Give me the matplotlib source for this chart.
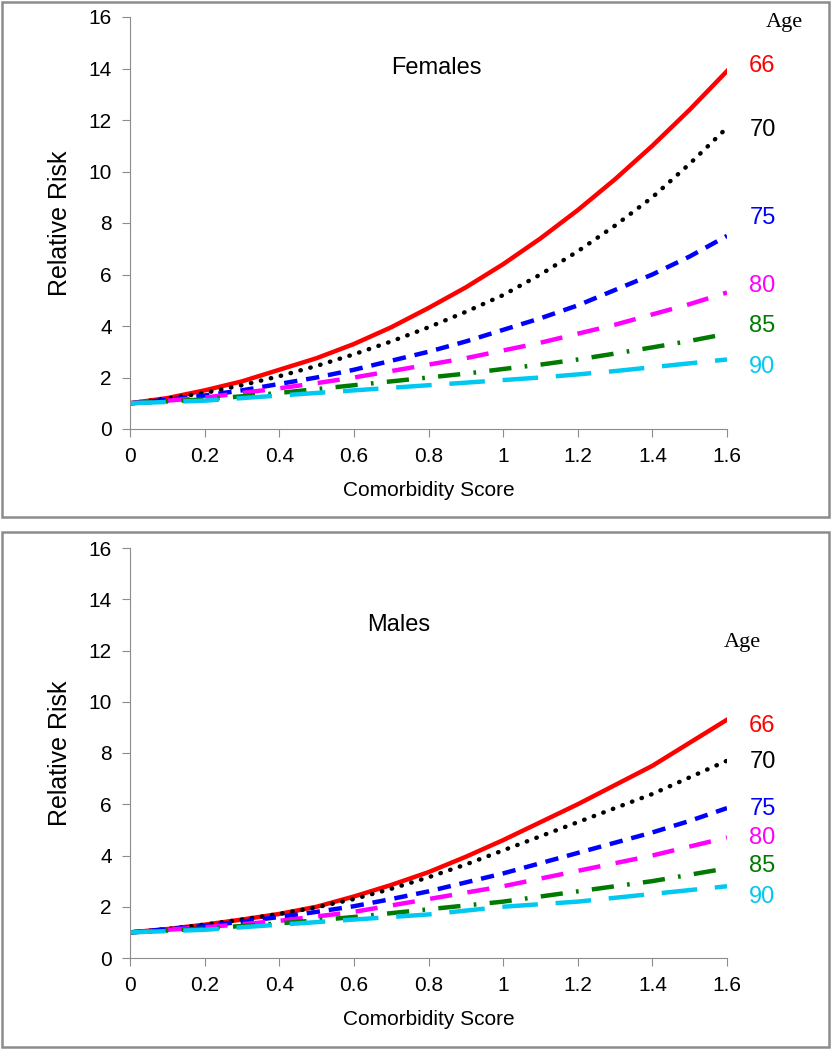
import numpy as np
import matplotlib.pyplot as plt
from matplotlib.patches import Rectangle

# Datos (cada 0.1)
score = [0, 0.1, 0.2, 0.3, 0.4, 0.5, 0.6, 0.7, 0.8, 0.9, 1.0, 1.1, 1.2, 1.3, 1.4, 1.5, 1.6]
ages = ["66", "70", "75", "80", "85", "90"]

fem_66 = [1, 1.2, 1.5, 1.85, 2.3, 2.75, 3.3, 3.95, 4.7, 5.5, 6.4, 7.4, 8.5, 9.7, 11.0, 12.4, 13.9]
fem_70 = [1, 1.18, 1.4, 1.7, 2.05, 2.45, 2.9, 3.4, 3.95, 4.55, 5.2, 6.0, 6.9, 7.9, 9.0, 10.3, 11.7]
fem_75 = [1, 1.13, 1.3, 1.5, 1.75, 2.0, 2.3, 2.65, 3.0, 3.4, 3.85, 4.3, 4.8, 5.4, 6.0, 6.7, 7.5]
fem_80 = [1, 1.1, 1.22, 1.4, 1.58, 1.78, 2.0, 2.25, 2.5, 2.75, 3.05, 3.35, 3.7, 4.05, 4.45, 4.85, 5.3]
fem_85 = [1, 1.07, 1.15, 1.27, 1.4, 1.55, 1.7, 1.85, 2.0, 2.15, 2.33, 2.5, 2.7, 2.93, 3.17, 3.42, 3.7]
fem_90 = [1, 1.05, 1.1, 1.2, 1.3, 1.4, 1.5, 1.6, 1.7, 1.8, 1.9, 2.0, 2.12, 2.25, 2.4, 2.55, 2.7]

mal_66 = [1, 1.13, 1.3, 1.5, 1.72, 2.0, 2.4, 2.85, 3.35, 3.95, 4.6, 5.3, 6.0, 6.75, 7.5, 8.4, 9.3]
mal_70 = [1, 1.13, 1.3, 1.5, 1.72, 1.98, 2.3, 2.7, 3.15, 3.65, 4.2, 4.75, 5.3, 5.85, 6.4, 7.05, 7.7]
mal_75 = [1, 1.12, 1.25, 1.42, 1.6, 1.8, 2.02, 2.3, 2.6, 2.95, 3.3, 3.7, 4.1, 4.5, 4.9, 5.35, 5.85]
mal_80 = [1, 1.1, 1.2, 1.32, 1.45, 1.62, 1.8, 2.05, 2.3, 2.55, 2.8, 3.1, 3.4, 3.7, 4.0, 4.35, 4.7]
mal_85 = [1, 1.07, 1.15, 1.25, 1.35, 1.47, 1.6, 1.75, 1.9, 2.05, 2.2, 2.4, 2.6, 2.8, 3.0, 3.25, 3.5]
mal_90 = [1, 1.05, 1.1, 1.2, 1.3, 1.4, 1.5, 1.6, 1.7, 1.85, 2.0, 2.1, 2.2, 2.35, 2.5, 2.65, 2.8]

# posicion vertical de las etiquetas de edad
fem_lab_y = [14.1, 11.6, 8.2, 5.55, 4.0, 2.4]
mal_lab_y = [9.06, 7.66, 5.82, 4.69, 3.6, 2.38]

colors = ["#ff0000", "#000000", "#0000ff", "#ff00ff", "#007a00", "#00c8f0"]
styles = [
    dict(linestyle="-", lw=3.2),
    dict(linestyle=(0, (0.1, 2.2)), lw=3.2, dash_capstyle="round"),
    dict(linestyle=(0, (3, 2)), lw=3.2),
    dict(linestyle=(0, (5, 3.5)), lw=3.2),
    dict(linestyle=(0, (5, 3, 0.6, 3)), lw=3.2),
    dict(linestyle=(0, (8, 4)), lw=3.2),
]

plt.rcParams['font.family'] = ['Liberation Sans', 'DejaVu Sans']

fig = plt.figure(figsize=(8.31, 10.5), dpi=100)

# marcos de cada panel
for y0 in [1 - 517 / 1050, 3 / 1050]:
    fig.patches.append(Rectangle((2 / 831, y0), 827 / 831, 515 / 1050, transform=fig.transFigure,
                                 fill=False, edgecolor="#8c8c8c", lw=1.8))

def panel(rect, series, lab_y, title, title_xy, age_xy):
    ax = fig.add_axes(rect)
    for ys, c, st in zip(series, colors, styles):
        ax.plot(score, ys, color=c, **st)
    ax.set_xlim(0, 1.6)
    ax.set_ylim(0, 16)
    ax.set_xticks(np.arange(0, 1.61, 0.2))
    ax.set_xticklabels(["0", "0.2", "0.4", "0.6", "0.8", "1", "1.2", "1.4", "1.6"])
    ax.set_yticks(range(0, 17, 2))
    for s in ["top", "right"]:
        ax.spines[s].set_visible(False)
    for s in ["left", "bottom"]:
        ax.spines[s].set_color("#8c8c8c")
    ax.tick_params(colors="#8c8c8c", labelcolor="black", labelsize=15, length=6, direction="out", pad=7)
    ax.set_ylabel("Relative Risk", fontsize=18, labelpad=12)
    ax.set_xlabel("Comorbidity Score", fontsize=15, labelpad=11)
    ax.text(title_xy[0], title_xy[1], title, fontsize=17, ha="center", va="center")
    ax.text(age_xy[0], age_xy[1], "Age", fontsize=16, family="Liberation Serif",
            ha="center", va="center", clip_on=False)
    for a, y, c in zip(ages, lab_y, colors):
        ax.text(1.695, y, a, color=c, fontsize=17, ha="center", va="center", clip_on=False)
    return ax

panel([130 / 831, 621 / 1050, 597 / 831, 412 / 1050],
      [fem_66, fem_70, fem_75, fem_80, fem_85, fem_90], fem_lab_y,
      "Females", (0.82, 14.0), (1.753, 15.8))
panel([130 / 831, 92 / 1050, 597 / 831, 410 / 1050],
      [mal_66, mal_70, mal_75, mal_80, mal_85, mal_90], mal_lab_y,
      "Males", (0.72, 13.0), (1.64, 12.3))

fig.savefig("out.png", dpi=100)
